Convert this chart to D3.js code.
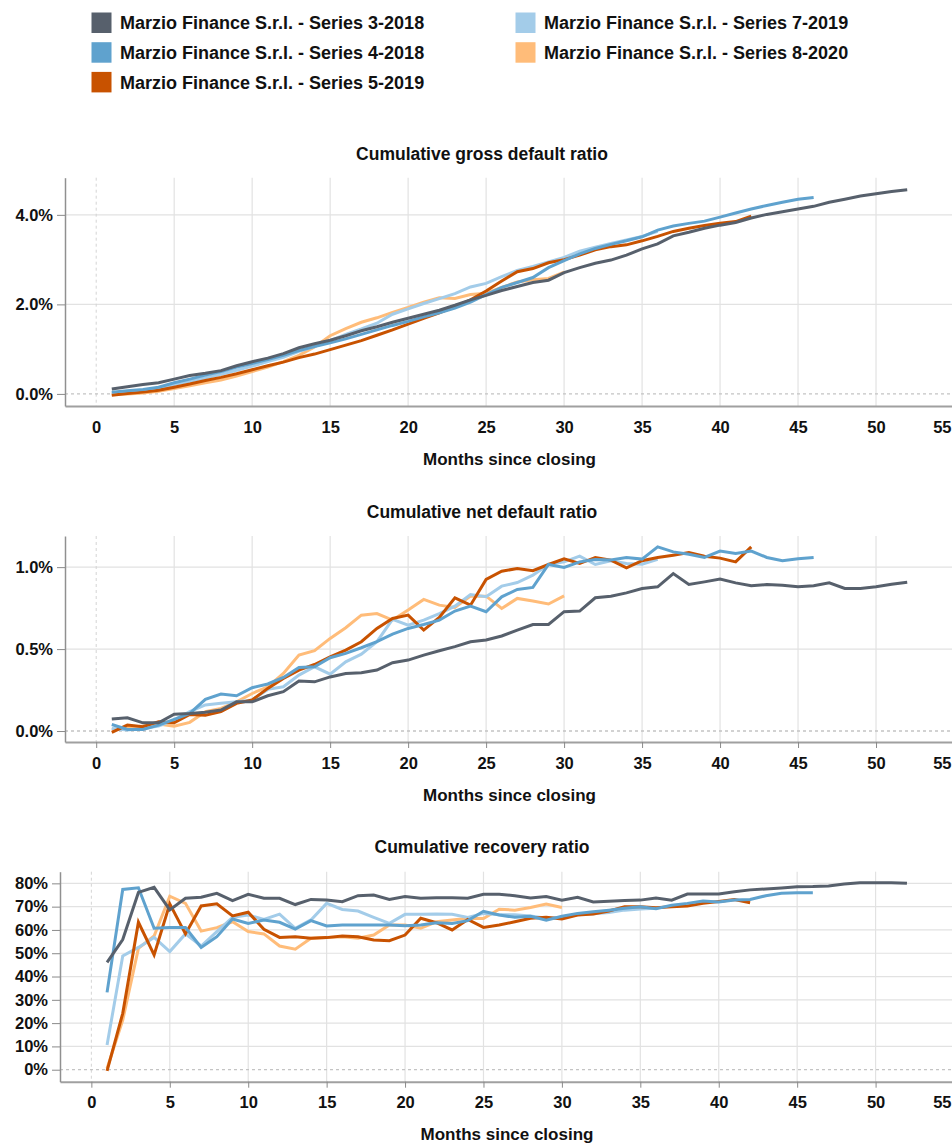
<!DOCTYPE html>
<html>
<head>
<meta charset="utf-8">
<script src="https://cdn.jsdelivr.net/npm/d3@7"></script>
<style>
  body { margin: 0; background: #fff; }
  text { font-family: "Liberation Sans", Arial, Helvetica, sans-serif; font-weight: bold; fill: #111; }
</style>
</head>
<body>
<div id="chart"></div>
<script>
// Series names and colours
const seriesNames = [
    "Marzio Finance S.r.l. - Series 3-2018",
    "Marzio Finance S.r.l. - Series 4-2018",
    "Marzio Finance S.r.l. - Series 5-2019",
    "Marzio Finance S.r.l. - Series 7-2019",
    "Marzio Finance S.r.l. - Series 8-2020"
];
const seriesColors = ["#57606c", "#5fa2ce", "#c85200", "#a3cce9", "#ffbc79"];

// Cumulative gross default ratio (%), one value per month since closing (month 1 first)
const gross3 = [0.11, 0.16, 0.21, 0.25, 0.33, 0.41, 0.46, 0.52, 0.63, 0.72, 0.80, 0.90, 1.03, 1.12, 1.20, 1.30, 1.41, 1.50, 1.60, 1.69,
    1.78, 1.87, 1.98, 2.10, 2.20, 2.31, 2.40, 2.49, 2.54, 2.71, 2.82, 2.92, 2.99, 3.10, 3.24, 3.35, 3.53, 3.61, 3.70, 3.77,
    3.83, 3.93, 4.01, 4.07, 4.13, 4.19, 4.28, 4.35, 4.42, 4.47, 4.52, 4.56];
const gross4 = [0.04, 0.07, 0.10, 0.15, 0.25, 0.33, 0.42, 0.50, 0.60, 0.68, 0.77, 0.86, 0.97, 1.06, 1.14, 1.23, 1.33, 1.43, 1.53, 1.62,
    1.72, 1.81, 1.92, 2.05, 2.22, 2.38, 2.49, 2.60, 2.82, 2.98, 3.13, 3.25, 3.34, 3.42, 3.51, 3.66, 3.75, 3.81, 3.86, 3.95,
    4.04, 4.13, 4.21, 4.28, 4.35, 4.39];
const gross5 = [-0.03, 0.01, 0.04, 0.08, 0.15, 0.22, 0.30, 0.37, 0.45, 0.54, 0.63, 0.71, 0.81, 0.89, 0.99, 1.09, 1.19, 1.31, 1.43, 1.56,
    1.69, 1.81, 1.95, 2.10, 2.30, 2.52, 2.73, 2.80, 2.93, 3.00, 3.10, 3.22, 3.29, 3.33, 3.42, 3.52, 3.63, 3.70, 3.76, 3.81,
    3.85, 3.97];
const gross7 = [0.02, 0.04, 0.07, 0.12, 0.21, 0.28, 0.36, 0.44, 0.53, 0.62, 0.72, 0.82, 0.95, 1.06, 1.19, 1.33, 1.45, 1.58, 1.78, 1.90,
    2.02, 2.13, 2.24, 2.39, 2.47, 2.62, 2.76, 2.85, 2.95, 3.05, 3.19, 3.28, 3.36, 3.44, 3.52, 3.63];
const gross8 = [-0.01, 0.00, 0.02, 0.06, 0.12, 0.18, 0.25, 0.31, 0.40, 0.50, 0.60, 0.72, 0.86, 1.05, 1.30, 1.46, 1.60, 1.70, 1.82, 1.93,
    2.05, 2.15, 2.13, 2.22, 2.25, 2.38, 2.50, 2.55, 2.58, 2.72];

// Cumulative net default ratio (%)
const net3 = [0.073, 0.081, 0.05, 0.05, 0.103, 0.107, 0.115, 0.128, 0.178, 0.178, 0.215, 0.24, 0.305, 0.30, 0.33, 0.351, 0.355, 0.372, 0.417, 0.433,
    0.463, 0.49, 0.515, 0.545, 0.555, 0.58, 0.616, 0.65, 0.65, 0.728, 0.732, 0.813, 0.823, 0.843, 0.87, 0.88, 0.961, 0.894, 0.91, 0.927,
    0.904, 0.886, 0.894, 0.89, 0.88, 0.886, 0.904, 0.87, 0.87, 0.88, 0.895, 0.908];
const net4 = [0.04, 0.01, 0.01, 0.036, 0.071, 0.107, 0.193, 0.226, 0.215, 0.264, 0.287, 0.327, 0.388, 0.392, 0.447, 0.474, 0.508, 0.545, 0.591, 0.626,
    0.65, 0.677, 0.732, 0.762, 0.728, 0.819, 0.864, 0.876, 1.016, 0.998, 1.032, 1.047, 1.043, 1.059, 1.049, 1.124, 1.093, 1.079, 1.059, 1.098,
    1.083, 1.098, 1.059, 1.039, 1.051, 1.059];
const net5 = [-0.008, 0.036, 0.026, 0.057, 0.05, 0.101, 0.097, 0.118, 0.169, 0.189, 0.26, 0.321, 0.372, 0.406, 0.453, 0.494, 0.545, 0.626, 0.687, 0.707,
    0.616, 0.693, 0.813, 0.768, 0.925, 0.975, 0.992, 0.978, 1.016, 1.051, 1.022, 1.059, 1.043, 0.996, 1.039, 1.059, 1.073, 1.089, 1.067, 1.055,
    1.032, 1.124];
const net7 = [0.016, 0.006, 0.016, 0.03, 0.067, 0.118, 0.159, 0.169, 0.178, 0.189, 0.254, 0.27, 0.341, 0.392, 0.347, 0.422, 0.469, 0.545, 0.681, 0.646,
    0.677, 0.717, 0.762, 0.833, 0.819, 0.884, 0.906, 0.951, 1.016, 1.032, 1.067, 1.016, 1.039, 1.022, 1.018, 1.047];
const net8 = [0.01, 0.02, 0.03, 0.043, 0.03, 0.053, 0.118, 0.138, 0.178, 0.229, 0.27, 0.351, 0.463, 0.49, 0.565, 0.63, 0.707, 0.717, 0.677, 0.738,
    0.803, 0.768, 0.754, 0.823, 0.823, 0.748, 0.809, 0.793, 0.775, 0.825];

// Cumulative recovery ratio (%)
const rec3 = [46.1, 55.9, 76.1, 78.3, 68.6, 73.6, 74.0, 75.7, 72.6, 75.3, 73.6, 73.6, 70.9, 73.1, 72.8, 72.1, 74.7, 75.0, 73.1, 74.3,
    73.6, 73.8, 73.8, 73.6, 75.3, 75.3, 74.7, 73.7, 74.3, 72.8, 74.0, 72.0, 72.3, 72.6, 72.8, 73.7, 72.8, 75.4, 75.4, 75.4,
    76.4, 77.2, 77.6, 78.0, 78.5, 78.6, 78.9, 79.7, 80.3, 80.3, 80.3, 80.0];
const rec4 = [33.2, 77.4, 78.1, 60.7, 61.0, 61.0, 52.5, 57.1, 64.7, 62.8, 64.3, 63.3, 60.4, 64.0, 61.7, 62.1, 62.1, 62.1, 62.1, 61.8,
    62.1, 63.1, 62.8, 64.0, 68.0, 66.4, 65.4, 65.9, 64.2, 65.9, 67.1, 67.8, 68.5, 69.3, 70.0, 69.1, 70.6, 71.4, 72.4, 72.0,
    72.8, 73.1, 74.7, 75.7, 76.0, 76.0];
const rec5 = [-0.5, 24.2, 63.3, 49.3, 71.2, 58.3, 70.3, 71.2, 66.0, 67.6, 60.3, 56.8, 57.1, 56.4, 56.7, 57.4, 57.1, 55.7, 55.4, 57.8,
    65.0, 63.1, 60.0, 64.5, 61.1, 62.1, 63.5, 65.0, 65.4, 64.7, 66.4, 66.8, 68.1, 70.0, 70.0, 69.5, 70.0, 70.3, 71.4, 72.2,
    73.1, 71.7];
const rec7 = [10.6, 48.8, 52.5, 56.8, 50.7, 58.3, 53.1, 59.3, 65.4, 66.4, 64.5, 66.8, 60.7, 64.3, 71.4, 68.8, 68.1, 65.4, 62.8, 66.7,
    66.7, 66.8, 66.7, 65.4, 67.1, 66.5, 66.5, 66.0, 65.0, 65.5, 66.5, 67.0, 67.5, 68.5, 69.0, 69.3];
const rec8 = [0.5, 21.3, 52.1, 57.4, 74.5, 71.4, 59.5, 61.0, 63.5, 59.3, 58.3, 53.1, 51.7, 56.4, 56.7, 57.1, 56.4, 57.8, 62.1, 62.1,
    60.7, 63.5, 64.3, 65.0, 64.9, 68.9, 68.5, 69.6, 71.1, 69.6];

// Axis ticks
const monthTicks = [0, 5, 10, 15, 20, 25, 30, 35, 40, 45, 50, 55];
const grossTicks = [0, 2, 4];
const netTicks = [0, 0.5, 1];
const recTicks = [0, 10, 20, 30, 40, 50, 60, 70, 80];

const svg = d3.select("#chart")
    .append("svg")
    .attr("width", 952)
    .attr("height", 1144);

// Legend
const legendRows = [0, 1, 2, 0, 1];
const legendCols = [0, 0, 0, 1, 1];
seriesNames.forEach((name, i) => {
    const g = svg.append("g")
        .attr("transform", `translate(${91.5 + legendCols[i] * 424},${12.5 + legendRows[i] * 29.7})`);
    g.append("rect")
        .attr("width", 20).attr("height", 20.5)
        .attr("fill", seriesColors[i]);
    g.append("text")
        .attr("x", 28.5).attr("y", 16.8)
        .style("font-size", "18px")
        .text(name);
});

// One panel per ratio
const panels = [
    {
        title: "Cumulative gross default ratio",
        series: [gross3, gross4, gross5, gross7, gross8],
        yTicks: grossTicks, yFormat: d => d.toFixed(1) + "%",
        yDomain: [-0.27, 4.83],
        left: 65, top: 177.7, bottom: 406, titleY: 160, axisTitleY: 465, xTickSize: 0
    },
    {
        title: "Cumulative net default ratio",
        series: [net3, net4, net5, net7, net8],
        yTicks: netTicks, yFormat: d => d.toFixed(1) + "%",
        yDomain: [-0.067, 1.19],
        left: 65, top: 536, bottom: 742, titleY: 518, axisTitleY: 801, xTickSize: 6
    },
    {
        title: "Cumulative recovery ratio",
        series: [rec3, rec4, rec5, rec7, rec8],
        yTicks: recTicks, yFormat: d => d + "%",
        yDomain: [-5.15, 85],
        left: 60, top: 871.7, bottom: 1081.7, titleY: 853, axisTitleY: 1140, xTickSize: 6
    }
];

const plotRight = 954;

panels.forEach(p => {
    const x = d3.scaleLinear().domain([-2, 55]).range([p.left, plotRight]);
    const y = d3.scaleLinear().domain(p.yDomain).range([p.bottom, p.top]);
    const g = svg.append("g");

    // Grid lines
    g.append("g").selectAll("line")
        .data(monthTicks.filter(d => d !== 0))
        .join("line")
        .attr("x1", d => x(d)).attr("x2", d => x(d))
        .attr("y1", p.top).attr("y2", p.bottom)
        .attr("stroke", "#e2e2e2").attr("stroke-width", 1.2);
    g.append("g").selectAll("line")
        .data(p.yTicks.filter(d => d !== 0))
        .join("line")
        .attr("x1", p.left).attr("x2", plotRight)
        .attr("y1", d => y(d)).attr("y2", d => y(d))
        .attr("stroke", "#e2e2e2").attr("stroke-width", 1.2);

    // Zero reference lines (dashed)
    g.append("line")
        .attr("x1", x(0)).attr("x2", x(0))
        .attr("y1", p.top).attr("y2", p.bottom)
        .attr("stroke", "#d4d4d4").attr("stroke-dasharray", "3,3");
    g.append("line")
        .attr("x1", p.left).attr("x2", plotRight)
        .attr("y1", y(0)).attr("y2", y(0))
        .attr("stroke", "#c4c4c4").attr("stroke-width", 1.3).attr("stroke-dasharray", "3,3");

    // Axes
    const xAxis = g.append("g")
        .attr("transform", `translate(0,${p.bottom})`)
        .call(d3.axisBottom(x).tickValues(monthTicks).tickSize(p.xTickSize)
            .tickSizeOuter(0).tickPadding(15 - p.xTickSize));
    xAxis.select(".domain").attr("stroke", "#a0a0a0").attr("stroke-width", 2);
    xAxis.selectAll(".tick line").attr("stroke", "#8a8a8a");
    xAxis.selectAll("text").style("font-size", "16.5px").attr("fill", "#111");
    xAxis.selectAll(".tick").filter(d => d === 55).select("text")
        .attr("text-anchor", "end").attr("x", 951 - x(55));

    const yAxis = g.append("g")
        .attr("transform", `translate(${p.left},0)`)
        .call(d3.axisLeft(y).tickValues(p.yTicks).tickFormat(p.yFormat)
            .tickSize(8).tickSizeOuter(0).tickPadding(4));
    yAxis.select(".domain").attr("stroke", "#909090").attr("stroke-width", 1.5);
    yAxis.selectAll(".tick line").attr("stroke", "#8a8a8a");
    yAxis.selectAll("text").style("font-size", "16.5px").attr("fill", "#111");

    // Titles
    svg.append("text")
        .attr("x", 482).attr("y", p.titleY)
        .attr("text-anchor", "middle")
        .style("font-size", "17.5px")
        .text(p.title);
    svg.append("text")
        .attr("x", (p.left + plotRight) / 2).attr("y", p.axisTitleY)
        .attr("text-anchor", "middle")
        .style("font-size", "17px")
        .text("Months since closing");

    // Lines, drawn with Series 3-2018 on top
    const line = d3.line()
        .x((d, i) => x(i + 1))
        .y(d => y(d));
    d3.range(p.series.length - 1, -1, -1).forEach(k => {
        g.append("path")
            .datum(p.series[k])
            .attr("fill", "none")
            .attr("stroke", seriesColors[k])
            .attr("stroke-width", 3)
            .attr("d", line);
    });
});
</script>
</body>
</html>
